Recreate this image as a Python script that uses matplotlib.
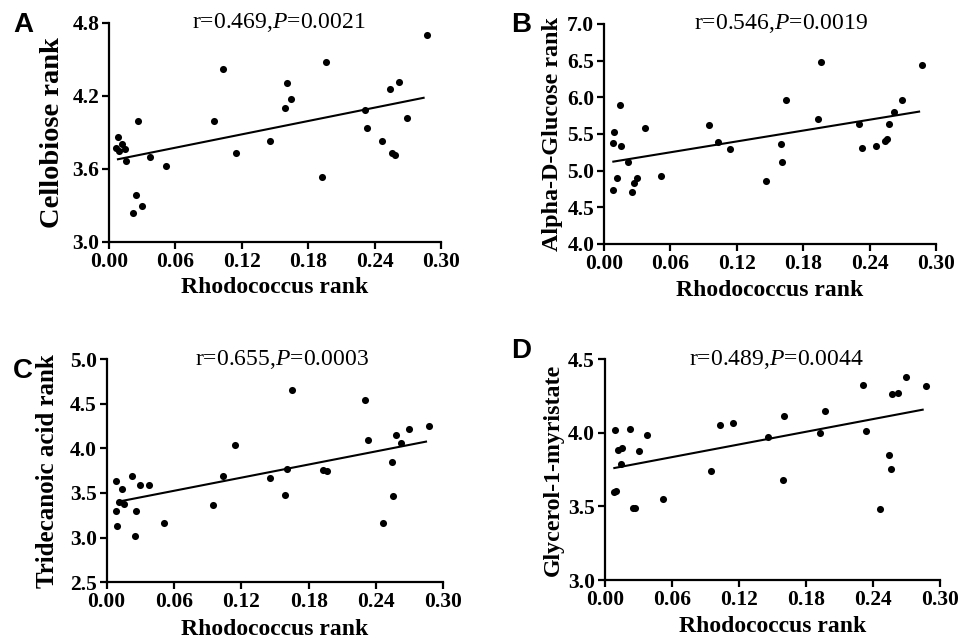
import matplotlib
matplotlib.use("Agg")
import matplotlib.pyplot as plt
from matplotlib.ticker import FormatStrFormatter

# values
rhodo_a = [0.0081, 0.0066, 0.0090, 0.0115, 0.0142, 0.0151, 0.0266, 0.0247, 0.0220, 0.0300,
           0.0374, 0.0516, 0.0951, 0.1032, 0.1144, 0.1458, 0.1590, 0.1606, 0.1648, 0.1929,
           0.1965, 0.2309, 0.2330, 0.2466, 0.2538, 0.2556, 0.2580, 0.2623, 0.2689, 0.2873]
cellobiose = [3.862, 3.771, 3.744, 3.807, 3.763, 3.667, 3.993, 3.390, 3.241, 3.299,
              3.702, 3.626, 3.996, 4.419, 3.735, 3.831, 4.098, 4.309, 4.174, 3.532,
              4.482, 4.084, 3.933, 3.831, 4.257, 3.735, 3.713, 4.312, 4.023, 4.698]
fit_a_x = [0.0081, 0.2843]
fit_a_y = [3.680, 4.185]

rhodo_b = [0.0078, 0.0087, 0.0084, 0.0114, 0.0141, 0.0150, 0.0220, 0.0250, 0.0268, 0.0298,
           0.0373, 0.0515, 0.0948, 0.1032, 0.1140, 0.1460, 0.1595, 0.1610, 0.1646, 0.1929,
           0.1962, 0.2305, 0.2332, 0.2461, 0.2536, 0.2554, 0.2578, 0.2624, 0.2693, 0.2876]
glucose = [4.741, 5.532, 5.373, 4.895, 5.900, 5.332, 5.123, 4.705, 4.836, 4.895,
           5.586, 4.923, 5.623, 5.386, 5.295, 4.864, 5.364, 5.118, 5.968, 5.705,
           6.482, 5.632, 5.309, 5.341, 5.409, 5.432, 5.641, 5.795, 5.968, 6.441]
fit_b_x = [0.0084, 0.2847]
fit_b_y = [5.123, 5.805]

rhodo_c = [0.0086, 0.0080, 0.0092, 0.0113, 0.0140, 0.0154, 0.0223, 0.0250, 0.0264, 0.0300,
           0.0377, 0.0514, 0.0950, 0.1034, 0.1141, 0.1458, 0.1592, 0.1604, 0.1648, 0.1925,
           0.1966, 0.2305, 0.2329, 0.2459, 0.2539, 0.2554, 0.2575, 0.2620, 0.2691, 0.2872]
tridecanoic = [3.631, 3.299, 3.131, 3.403, 3.549, 3.377, 3.687, 3.022, 3.302, 3.590,
               3.590, 3.168, 3.369, 3.694, 4.037, 3.672, 3.481, 3.772, 4.657, 3.754,
               3.746, 4.541, 4.097, 3.168, 3.847, 3.463, 4.146, 4.063, 4.213, 4.254]
fit_c_x = [0.0104, 0.2846]
fit_c_y = [3.403, 4.075]

rhodo_d = [0.0092, 0.0086, 0.0101, 0.0119, 0.0155, 0.0146, 0.0226, 0.0256, 0.0274, 0.0304,
           0.0378, 0.0518, 0.0947, 0.1034, 0.1144, 0.1457, 0.1597, 0.1606, 0.1927, 0.1966,
           0.2312, 0.2333, 0.2461, 0.2538, 0.2556, 0.2568, 0.2622, 0.2693, 0.2872]
myristate = [4.018, 3.597, 3.602, 3.882, 3.894, 3.787, 4.025, 3.489, 3.489, 3.873,
             3.984, 3.552, 3.738, 4.050, 4.066, 3.973, 3.679, 4.111, 4.000, 4.147,
             4.326, 4.009, 3.484, 3.848, 3.751, 4.265, 4.269, 4.378, 4.319]
fit_d_x = [0.0086, 0.2842]
fit_d_y = [3.760, 4.156]

x_ticks = [0.00, 0.06, 0.12, 0.18, 0.24, 0.30]

panels = [
    # letter, x, y, fit x, fit y, ylabel, ylabel size, yticks, stats, axes rect,
    # letter pos, stat x, ylabel x
    ("A", rhodo_a, cellobiose, fit_a_x, fit_a_y, "Cellobiose rank", 20.5, [3.0, 3.6, 4.2, 4.8],
     "0.469", "0.0021", [0.1133, 0.6207, 0.3451, 0.3433], (0.024, 0.961), 0.51, -0.169),
    ("B", rhodo_b, glucose, fit_b_x, fit_b_y, "Alpha-D-Glucose rank", 17.4,
     [4.0, 4.5, 5.0, 5.5, 6.0, 6.5, 7.0],
     "0.546", "0.0019", [0.6279, 0.6176, 0.3451, 0.3448], (0.542, 0.961), 0.533, -0.154),
    ("C", rhodo_c, tridecanoic, fit_c_x, fit_c_y, "Tridecanoic acid rank", 18,
     [2.5, 3.0, 3.5, 4.0, 4.5, 5.0],
     "0.655", "0.0003", [0.1109, 0.0873, 0.3499, 0.3500], (0.024, 0.418), 0.52, -0.177),
    ("D", rhodo_d, myristate, fit_d_x, fit_d_y, "Glycerol-1-myristate", 17.2,
     [3.0, 3.5, 4.0, 4.5],
     "0.489", "0.0044", [0.6286, 0.0909, 0.3489, 0.3464], (0.542, 0.450), 0.51, -0.154),
]

plt.rcParams["font.family"] = "Liberation Serif"
plt.rcParams["mathtext.fontset"] = "custom"
plt.rcParams["mathtext.rm"] = "Liberation Serif"
plt.rcParams["mathtext.it"] = "Liberation Serif:italic"

fig = plt.figure(figsize=(9.62, 6.38), dpi=100)

for (letter, x, y, fx, fy, ylabel, ylsize, yticks, r, p, rect,
     lpos, sx, ylx) in panels:
    ax = fig.add_axes(rect)
    ax.scatter(x, y, s=26, color="black", zorder=3, linewidths=0)
    ax.plot(fx, fy, color="black", lw=1.5)
    ax.set_xlim(0, 0.30)
    ax.set_ylim(yticks[0], yticks[-1])
    ax.set_xticks(x_ticks)
    ax.set_yticks(yticks)
    ax.xaxis.set_major_formatter(FormatStrFormatter("%.2f"))
    ax.yaxis.set_major_formatter(FormatStrFormatter("%.1f"))
    for side in ["top", "right"]:
        ax.spines[side].set_visible(False)
    for side in ["left", "bottom"]:
        ax.spines[side].set_linewidth(1.6)
    ax.tick_params(direction="out", length=5, width=1.6, labelsize=15.5, pad=2)
    for lab in ax.get_xticklabels() + ax.get_yticklabels():
        lab.set_fontweight("bold")
    ax.set_xlabel("Rhodococcus rank", fontsize=17, fontweight="bold")
    ax.set_ylabel(ylabel, fontsize=ylsize, fontweight="bold")
    ax.xaxis.label.set_va("center")
    ax.yaxis.label.set_va("center")
    ax.xaxis.set_label_coords(0.5, -0.21)
    ax.yaxis.set_label_coords(ylx, 0.5)
    ax.text(sx, 1.0, "r=" + r + ",$\\mathit{P}$=" + p, transform=ax.transAxes,
            ha="center", va="center", fontsize=17)
    fig.text(lpos[0], lpos[1], letter, fontsize=20, fontweight="bold",
             family="Liberation Sans", ha="center", va="center")

fig.savefig("out.png", dpi=100)
